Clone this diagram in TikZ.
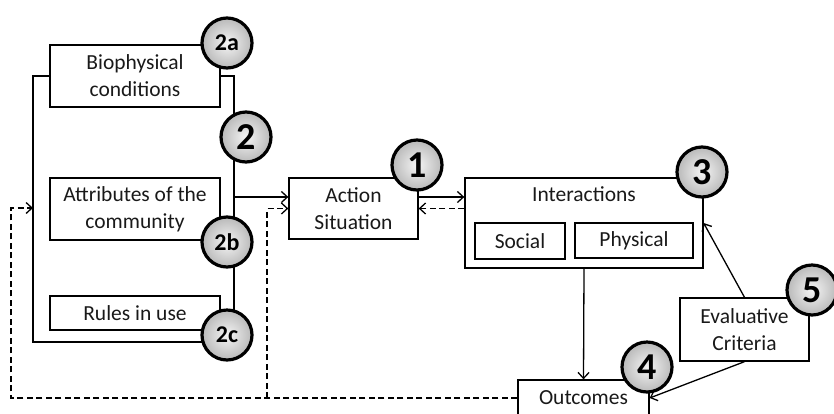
\documentclass[tikz,border=0pt]{standalone}
\usepackage{fontspec}
\setmainfont{Carlito}
\usetikzlibrary{shapes,arrows,arrows.meta,positioning,calc}

\begin{document}
\begin{tikzpicture}[x=1pt, y=-1pt, line width=1.3pt, >={Straight Barb[length=6pt,width=11pt]},
    box/.style={draw, rectangle, inner sep=2pt, align=center, text=black!90, font=\fontsize{21.5}{27}\selectfont},
    num/.style={draw, circle, line width=3.2pt, minimum size=50pt, inner sep=0pt, inner color=gray!8, outer color=gray!55, font=\bfseries\fontsize{38}{38}\selectfont},
    subnum/.style={num, font=\bfseries\fontsize{24}{24}\selectfont},
    fb/.style={->, dash pattern=on 6pt off 3.5pt}]
    \useasboundingbox (0,0) rectangle (834,413);
    \clip (0,0) rectangle (834,413);
                % boxes
                \node[box, minimum width=170, minimum height=62] (bio) at (135,76) {Biophysical\\conditions};
                \node[box, minimum width=170, minimum height=62] (attr) at (135,209) {Attributes of the\\community};
                \node[box, minimum width=170, minimum height=34] (rules) at (135,313) {Rules in use};
                \node[box, minimum width=129, minimum height=61] (action) at (353.5,208.5) {Action\\Situation};
                \node[box, minimum width=238, minimum height=90, label={[anchor=north, yshift=-5pt, text=black!90, font=\fontsize{21.5}{27}\selectfont]north:Interactions}] (inter) at (584,223) {};
                \node[box, minimum width=90, minimum height=36] (social) at (520,241) {Social};
                \node[box, minimum width=118, minimum height=35] (phys) at (634,240.5) {Physical};
                \node[box, minimum width=129, minimum height=63] (eval) at (744.5,329.5) {Evaluative\\Criteria};
                \node[box, minimum width=131, minimum height=36] (outc) at (583.5,398) {Outcomes};
                % bracket round the 2a-2c boxes
                \coordinate (bl) at (33,76);
                \coordinate (br) at (234,76);
                \draw (bio.west) -- (bl) -- (33,342) -- (215,342);
                \draw (bio.east) -- (br) -- (234,320);
                \draw[->] (234,197) -- (action.west |- 0,197);
                \draw[->] ([yshift=11.5pt]action.east) -- ([yshift=11.5pt]action.east -| inter.west);
                \draw[->, dash pattern=on 6pt off 3.5pt] (inter.west |- action.east) -- (action.east);
                \draw[->] (inter.south) -- (outc.north);
                \draw[->] (eval.north) -- (inter.east);
                \draw[->] (eval.south) -- (outc.east);
                % feedback from outcomes
                \coordinate (fl) at (11,208);
                \coordinate (fm) at (267,398);
                \draw[fb] (outc.west) -- (11,398) -- (fl) -- (33,208);
                \draw[fb] (fm) |- (action.west);
                % numbers
                \node[subnum] (n2a) at (227,43) {2a};
                \node[num] (n2) at (246,137) {2};
                \node[subnum] (n2b) at (227,242) {2b};
                \node[subnum] (n2c) at (227,335) {2c};
                \node[num] (n1) at (417,165) {1};
                \node[num] (n3) at (702,172) {3};
                \node[num] (n4) at (647,367) {4};
                \node[num] (n5) at (812,290) {5};
            \end{tikzpicture}
\end{document}
